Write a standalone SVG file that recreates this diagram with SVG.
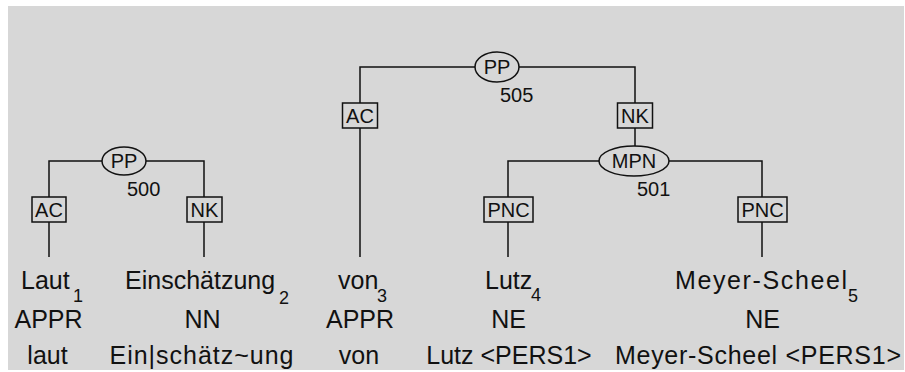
<svg xmlns="http://www.w3.org/2000/svg" width="905" height="372" viewBox="0 0 905 372">
<style>
text{font-family:"Liberation Sans",Arial,sans-serif;fill:#111}
.w{font-size:25px}
.s{font-size:18px}
.l{font-size:20px}
.c{text-anchor:middle}
.edge{fill:none;stroke:#111;stroke-width:1.5}
.box{fill:#d7d7d7;stroke:#111;stroke-width:1.5}
.ell{fill:#d7d7d7;stroke:#111;stroke-width:1.5}
</style>
<rect width="905" height="372" fill="#ffffff"/>
<rect x="8" y="6" width="896" height="364" fill="#d7d7d7"/>
<g id="connectors">
<path class="edge" d="M49,257 V161 H204 V257"/>
<path class="edge" d="M360,257 V67 H635 V146"/>
<path class="edge" d="M508,257 V161 H762 V257"/>
<g id="lbl-ac1"><rect class="box" x="32" y="197" width="34" height="25"/><text class="l c" x="49" y="216.5">AC</text></g>
<g id="lbl-nk1"><rect class="box" x="187" y="197" width="35" height="25"/><text class="l c" x="204.5" y="216.5">NK</text></g>
<g id="lbl-ac2"><rect class="box" x="342.5" y="103" width="35" height="25"/><text class="l c" x="360" y="122.5">AC</text></g>
<g id="lbl-nk2"><rect class="box" x="617.5" y="103" width="35" height="25"/><text class="l c" x="635" y="122.5">NK</text></g>
<g id="lbl-pnc1"><rect class="box" x="484" y="197" width="49" height="25"/><text class="l c" x="508.5" y="216.5">PNC</text></g>
<g id="lbl-pnc2"><rect class="box" x="738" y="197" width="49" height="25"/><text class="l c" x="762.5" y="216.5">PNC</text></g>
</g>
<g id="n500"><ellipse class="ell" cx="124" cy="161" rx="22" ry="14"/><text class="l c" x="124" y="168">PP</text><text class="l" x="127" y="196">500</text></g>
<g id="n505"><ellipse class="ell" cx="497" cy="67" rx="22" ry="15"/><text class="l c" x="497" y="74">PP</text><text class="l" x="500" y="102">505</text></g>
<g id="n501"><ellipse class="ell" cx="634" cy="161" rx="35" ry="15"/><text class="l c" x="634" y="168">MPN</text><text class="l" x="637" y="196">501</text></g>
<g id="t1"><text class="w" x="21" y="289">Laut</text><text class="s" x="73" y="302">1</text><text class="w c" x="48.5" y="328">APPR</text><text class="w c" x="47.5" y="364">laut</text></g>
<g id="t2"><text class="w" x="125" y="289">Einschätzung</text><text class="s" x="279" y="304">2</text><text class="w c" x="202.5" y="328">NN</text><text class="w c" x="201.5" y="364" textLength="184" lengthAdjust="spacing">Ein|schätz~ung</text></g>
<g id="t3"><text class="w" x="338" y="289">von</text><text class="s" x="377" y="302">3</text><text class="w c" x="360" y="328">APPR</text><text class="w c" x="359" y="364">von</text></g>
<g id="t4"><text class="w" x="485" y="289">Lutz</text><text class="s" x="531" y="301">4</text><text class="w c" x="508.5" y="328">NE</text><text class="w c" x="509" y="364">Lutz &lt;PERS1&gt;</text></g>
<g id="t5"><text class="w" x="675" y="289" textLength="172" lengthAdjust="spacing">Meyer-Scheel</text><text class="s" x="848" y="302">5</text><text class="w c" x="762.5" y="328">NE</text><text class="w" x="615" y="364" textLength="286" lengthAdjust="spacing">Meyer-Scheel &lt;PERS1&gt;</text></g>
</svg>
